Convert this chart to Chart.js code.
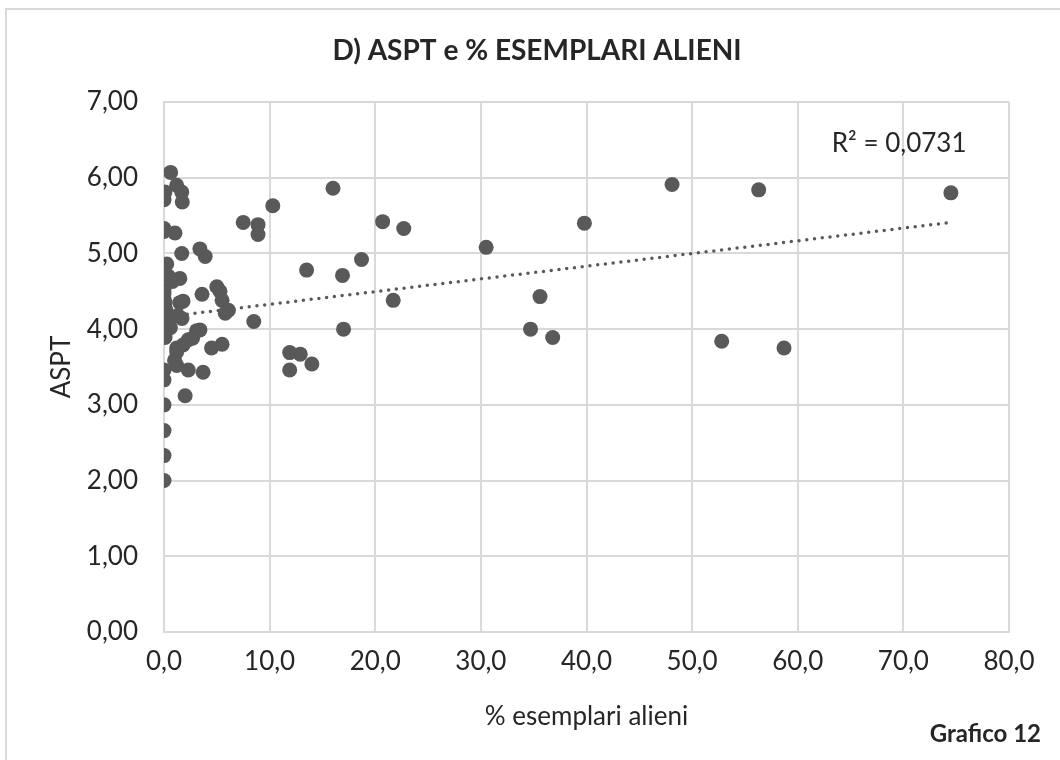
<!DOCTYPE html>
<html>
<head>
<meta charset="utf-8">
<script src="https://cdn.jsdelivr.net/npm/chart.js@4.4.0/dist/chart.umd.min.js"></script>
<style>
    html, body { margin: 0; padding: 0; background: #fff; }
    #wrap { width: 1060px; height: 760px; position: relative; }
</style>
</head>
<body>
<div id="wrap"><canvas id="grafico"></canvas></div>
<script>
// Dati >>>>>>>>>>>>>>>>>>>>>>>>>>>>>>>>>>>>>>>>>>>>>>>>>>>>>>>>>
const titolo = "D) ASPT e % ESEMPLARI ALIENI";
const titoloX = "% esemplari alieni";
const titoloY = "ASPT";
const etichettaR2 = "R² = 0,0731";
const nota = "Grafico 12";

// % esemplari alieni
const percAlieni = [
    0.63, 0.09, 1.2, 1.68, 0.0, 1.73, 0.0, 0.0, 1.04, 1.68,
    3.4, 3.9, 0.26, 0.4, 1.5, 0.0, 0.0, 0.0, 0.1, 0.0,
    0.2, 0.1, 0.4, 0.0, 0.3, 0.6, 0.0, 0.1, 0.8, 1.5,
    1.8, 1.3, 1.7, 3.6, 5.0, 5.3, 5.5, 6.1, 5.8, 3.4,
    3.1, 2.7, 2.3, 1.8, 1.2, 1.2, 4.5, 5.5, 1.0, 1.2,
    0.0, 2.3, 3.7, 0.0, 2.0, 0.0, 0.0, 0.0, 0.0,
    74.5, 56.3, 48.1, 39.8, 30.5, 35.6, 34.7, 36.8, 52.8, 58.7,
    20.7, 22.7, 21.7, 18.7, 16.9, 13.5, 17.0, 16.0, 10.3, 7.5,
    8.9, 8.9, 8.5, 11.9, 12.9, 11.9, 14.0
];
// ASPT corrispondente
const aspt = [
    6.07, 5.81, 5.90, 5.81, 5.71, 5.68, 5.33, 5.29, 5.27, 5.00,
    5.06, 4.96, 4.86, 4.70, 4.67, 4.52, 4.47, 4.40, 4.35, 4.30,
    4.25, 4.18, 4.13, 4.08, 4.03, 4.02, 3.98, 3.89, 4.63, 4.35,
    4.37, 4.18, 4.14, 4.46, 4.56, 4.50, 4.38, 4.25, 4.21, 3.99,
    3.98, 3.88, 3.86, 3.79, 3.75, 3.70, 3.75, 3.80, 3.59, 3.52,
    3.46, 3.46, 3.43, 3.33, 3.12, 3.00, 2.66, 2.33, 2.00,
    5.80, 5.84, 5.91, 5.40, 5.08, 4.43, 4.00, 3.89, 3.84, 3.75,
    5.42, 5.33, 4.38, 4.92, 4.71, 4.78, 4.00, 5.86, 5.63, 5.41,
    5.38, 5.25, 4.10, 3.69, 3.67, 3.46, 3.54
];

// linea di tendenza lineare (estremi)
const tendenzaX = [0, 74.5];
const tendenzaY = [4.16, 5.41];

const ticksX = [0, 10, 20, 30, 40, 50, 60, 70, 80];
const ticksY = [0, 1, 2, 3, 4, 5, 6, 7];

// Costruzione >>>>>>>>>>>>>>>>>>>>>>>>>>>>>>>>>>>>>>>>>>>>>>>>>>>>>>>>>>>>>>>>>>
const punti = percAlieni.map((x, i) => ({ x: x, y: aspt[i] }));
const lineaTendenza = tendenzaX.map((x, i) => ({ x: x, y: tendenzaY[i] }));

const FONT = "Lato, 'Open Sans', sans-serif";
const GRIGIO = "#595959";
const GRIGLIA = "#d9d9d9";
const TESTO = "#262626";

const decorazioni = {
    id: "decorazioni",
    beforeDraw(chart) {
        const c = chart.ctx;
        c.save();
        c.fillStyle = "#fff";
        c.fillRect(0, 0, chart.width, chart.height);
        c.strokeStyle = GRIGLIA;
        c.lineWidth = 2;
        c.strokeRect(6, 9, chart.width + 20, chart.height + 20);
        c.restore();
    },
    afterDraw(chart) {
        const c = chart.ctx;
        const sx = chart.scales.x, sy = chart.scales.y;
        c.save();
        c.fillStyle = TESTO;
        c.textAlign = "center";
        c.textBaseline = "middle";
        c.font = "bold 28px " + FONT;
        c.fillText(titolo, 537, 51);
        c.font = "26px " + FONT;
        c.fillText(etichettaR2, sx.getPixelForValue(69.6), sy.getPixelForValue(6.45));
        c.font = "bold 24px " + FONT;
        c.textAlign = "right";
        c.fillText(nota, 1041, 734);
        c.restore();
    },
};

const ctx = document.getElementById("grafico").getContext("2d");
new Chart(ctx, {
    type: "scatter",
    data: {
        datasets: [
            {
                label: "ASPT",
                data: punti,
                backgroundColor: GRIGIO,
                borderWidth: 0,
                pointRadius: 7.5,
                pointHoverRadius: 7.5,
                order: 2,
            },
            {
                type: "line",
                label: "Lineare",
                data: lineaTendenza,
                borderColor: GRIGIO,
                borderWidth: 3.5,
                borderDash: [0, 7.8],
                borderCapStyle: "round",
                pointRadius: 0,
                fill: false,
                order: 1,
            },
        ],
    },
    options: {
        responsive: true,
        maintainAspectRatio: false,
        animation: false,
        layout: { padding: { left: 0, right: 51, top: 102, bottom: 0 } },
        plugins: {
            legend: { display: false },
            tooltip: { enabled: false },
            title: { display: false },
        },
        scales: {
            x: {
                type: "linear",
                min: 0,
                max: 80,
                afterBuildTicks: (s) => { s.ticks = ticksX.map((v) => ({ value: v })); },
                afterFit: (s) => { s.height = 128; },
                ticks: {
                    color: TESTO,
                    font: { family: FONT, size: 26 },
                    padding: 14,
                    callback: (v) => v.toFixed(1).replace(".", ","),
                },
                grid: { color: GRIGLIA, lineWidth: 2, drawTicks: false },
                border: { color: GRIGLIA, width: 2 },
                title: {
                    display: true,
                    text: titoloX,
                    color: TESTO,
                    font: { family: FONT, size: 26, lineHeight: 1.2 },
                    padding: { top: 0, bottom: 28 },
                },
            },
            y: {
                min: 0,
                max: 7,
                afterBuildTicks: (s) => { s.ticks = ticksY.map((v) => ({ value: v })); },
                afterFit: (s) => { s.width = 164; },
                ticks: {
                    color: TESTO,
                    font: { family: FONT, size: 26 },
                    padding: 26,
                    callback: (v) => v.toFixed(2).replace(".", ","),
                },
                grid: { color: GRIGLIA, lineWidth: 2, drawTicks: false },
                border: { color: GRIGLIA, width: 2 },
                title: {
                    display: true,
                    text: titoloY,
                    color: TESTO,
                    font: { family: FONT, size: 26, lineHeight: 1.2 },
                    padding: { top: 46, bottom: 0 },
                },
            },
        },
    },
    plugins: [decorazioni],
});
</script>
</body>
</html>
